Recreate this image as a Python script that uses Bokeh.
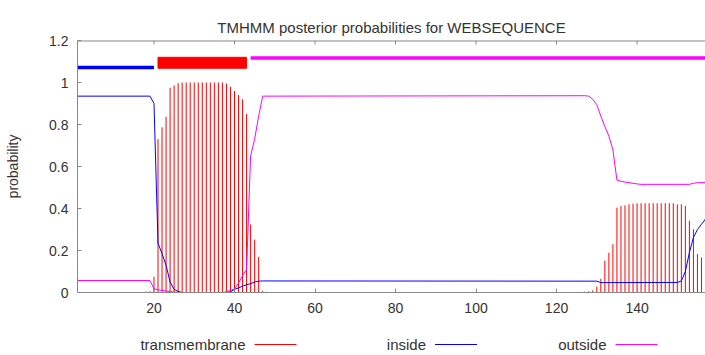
from bokeh.plotting import figure
from bokeh.models import Range1d, LinearAxis, FixedTicker
from bokeh.layouts import column
from bokeh.core.properties import value
from bokeh.embed import file_html
from bokeh.resources import INLINE

# ---------------- data ----------------
seq_len = 157
title_text = "TMHMM posterior probabilities for WEBSEQUENCE"
y_label = "probability"
x_ticks = [20, 40, 60, 80, 100, 120, 140]
y_ticks = [0, 0.2, 0.4, 0.6, 0.8, 1.0, 1.2]
y_tick_labels = ["0", "0.2", "0.4", "0.6", "0.8", "1", "1.2"]

# predicted topology (residue ranges)
topo_kind = ["inside", "TMhelix", "outside"]
topo_start = [1, 21, 44]
topo_end = [20, 43, 157]

# transmembrane posterior probability (impulses)
tm_res = [18, 19, 20, 21, 22, 23, 24, 25, 26, 27, 28, 29, 30, 31, 32, 33, 34, 35,
          36, 37, 38, 39, 40, 41, 42, 43, 44, 45, 46, 47, 48,
          126, 127, 128, 129, 130, 131, 132, 133, 134, 135, 136, 137, 138, 139,
          140, 141, 142, 143, 144, 145, 146, 147, 148, 149, 150, 151, 152, 153,
          154, 155, 156, 157]
tm_prob = [0.004, 0.006, 0.075, 0.73, 0.787, 0.837, 0.975, 0.986, 0.997, 1.0, 1.0,
           1.0, 1.0, 1.0, 1.0, 1.0, 1.0, 1.0, 1.0, 1.0, 0.995, 0.98, 0.96, 0.94,
           0.92, 0.85, 0.324, 0.252, 0.17, 0.008, 0.004,
           0.003, 0.004, 0.006, 0.01, 0.028, 0.065, 0.152, 0.19, 0.23, 0.404,
           0.412, 0.415, 0.42, 0.423, 0.425, 0.425, 0.425, 0.425, 0.425, 0.425,
           0.425, 0.425, 0.425, 0.425, 0.42, 0.42, 0.412, 0.341, 0.302, 0.183,
           0.167, 0.152]

# inside posterior probability
inside_res = [1, 19, 20, 21, 22, 23, 24, 25, 26, 27, 38, 39, 40, 41, 42, 43, 44,
              45, 46, 47, 130, 131, 150, 151, 152, 153, 154, 155, 156, 157]
inside_prob = [0.935, 0.935, 0.90, 0.235, 0.185, 0.13, 0.05, 0.015, 0.005, 0.0,
               0.0, 0.003, 0.015, 0.022, 0.03, 0.037, 0.042, 0.05, 0.054, 0.055,
               0.054, 0.047, 0.048, 0.055, 0.10, 0.19, 0.262, 0.30, 0.325, 0.35]

# outside posterior probability
outside_res = [1, 19, 20, 21, 22, 23, 24, 25, 26, 37, 38, 39, 40, 41, 42, 43, 44,
               45, 46, 47, 127, 128, 129, 130, 131, 132, 133, 134, 135, 136, 137,
               138, 139, 140, 141, 153, 154, 155, 157]
outside_prob = [0.057, 0.057, 0.018, 0.013, 0.01, 0.007, 0.004, 0.002, 0.0, 0.0,
                0.003, 0.01, 0.018, 0.045, 0.08, 0.11, 0.65, 0.73, 0.84, 0.935,
                0.937, 0.935, 0.92, 0.894, 0.84, 0.79, 0.745, 0.68, 0.535, 0.53,
                0.526, 0.523, 0.52, 0.517, 0.515, 0.515, 0.52, 0.523, 0.523]

legend_labels = ["transmembrane", "inside", "outside"]

# ---------------- styles ----------------
FONT = "Liberation Sans"
TXT = "#333333"
AX = "#888888"
RED, BLUE, MAG = "#ff0000", "#0000ff", "#ff00ff"
W, H_MAIN, H_LEG = 705, 320, 35
BL, BT, BB = 77, 40, 28
px_per_y = (H_MAIN - BT - BB) / 1.2

p = figure(width=W, height=H_MAIN, x_range=Range1d(1, seq_len), y_range=Range1d(0, 1.2),
           x_axis_type=None, y_axis_type=None, output_backend="svg",
           toolbar_location=None, min_border_left=BL, min_border_right=0,
           min_border_top=BT, min_border_bottom=BB)
p.outline_line_color = None
p.background_fill_color = "white"
p.border_fill_color = "white"

p.title.text = title_text
p.title.align = "center"
p.title.text_font = FONT
p.title.text_font_size = "15px"
p.title.text_font_style = "normal"
p.title.text_color = TXT
p.title.standoff = 10


def make_axis(ticks, **kw):
    ax = LinearAxis(ticker=FixedTicker(ticks=ticks), axis_line_color=AX,
                    major_tick_line_color=AX, major_tick_in=4, major_tick_out=0,
                    minor_tick_line_color=None, major_label_text_font=FONT,
                    major_label_text_font_size="14px", major_label_text_color=TXT)
    for k, v in kw.items():
        setattr(ax, k, v)
    return ax


p.add_layout(make_axis(x_ticks, major_label_standoff=10), "below")
p.add_layout(make_axis(y_ticks, major_label_standoff=9,
                       major_label_overrides=dict(zip(y_ticks, y_tick_labels)),
                       axis_label=y_label, axis_label_standoff=25,
                       axis_label_text_font=FONT, axis_label_text_font_size="14px",
                       axis_label_text_font_style="normal",
                       axis_label_text_color=TXT), "left")

# top border with mirrored ticks
p.segment(x0=[1], y0=[1.2], x1=[seq_len], y1=[1.2], line_color=AX, line_width=2)
p.segment(x0=x_ticks, y0=1.2, x1=x_ticks, y1=1.2 - 4 / px_per_y, line_color=AX,
          line_width=1)

# impulses
p.segment(x0=tm_res, y0=0, x1=tm_res, y1=tm_prob, line_color=RED, line_width=1)
# posterior curves
p.line(inside_res, inside_prob, line_color=BLUE, line_width=1)
p.line(outside_res, outside_prob, line_color=MAG, line_width=1)

# topology bar on top
topo_style = {
    "inside": dict(kind="line", y=1.072, color=BLUE, width=3.5),
    "outside": dict(kind="line", y=1.117, color=MAG, width=3.5),
    "TMhelix": dict(kind="box", bottom=1.068, top=1.12, color=RED),
}
for k, s, e in zip(topo_kind, topo_start, topo_end):
    st = topo_style[k]
    if st["kind"] == "line":
        p.segment(x0=[s], y0=[st["y"]], x1=[e], y1=[st["y"]], line_color=st["color"],
                  line_width=st["width"])
    else:
        p.quad(left=[s], right=[e], bottom=[st["bottom"]], top=[st["top"]],
               fill_color=st["color"], line_color=st["color"], line_width=1)

# legend (label followed by sample line), x in canvas pixels
leg = figure(width=W, height=H_LEG, x_range=Range1d(BL, W), y_range=Range1d(0, H_LEG),
             x_axis_type=None, y_axis_type=None, output_backend="svg",
             toolbar_location=None, min_border=0, min_border_left=BL)
leg.outline_line_color = None
leg_colors = [RED, BLUE, MAG]
ly = H_LEG - 24
for i, (lab, c) in enumerate(zip(legend_labels, leg_colors)):
    x0 = 254 + 180.5 * i
    leg.segment(x0=[x0], y0=[ly], x1=[x0 + 42], y1=[ly], line_color=c, line_width=1)
    leg.text(x=[x0 - 9], y=[ly], text=[lab], text_align="right", text_baseline="middle",
             text_font=value(FONT), text_font_size="15px", text_color=TXT)

layout = column(p, leg, spacing=0)
open("out.html", "w").write(file_html(layout, INLINE))
